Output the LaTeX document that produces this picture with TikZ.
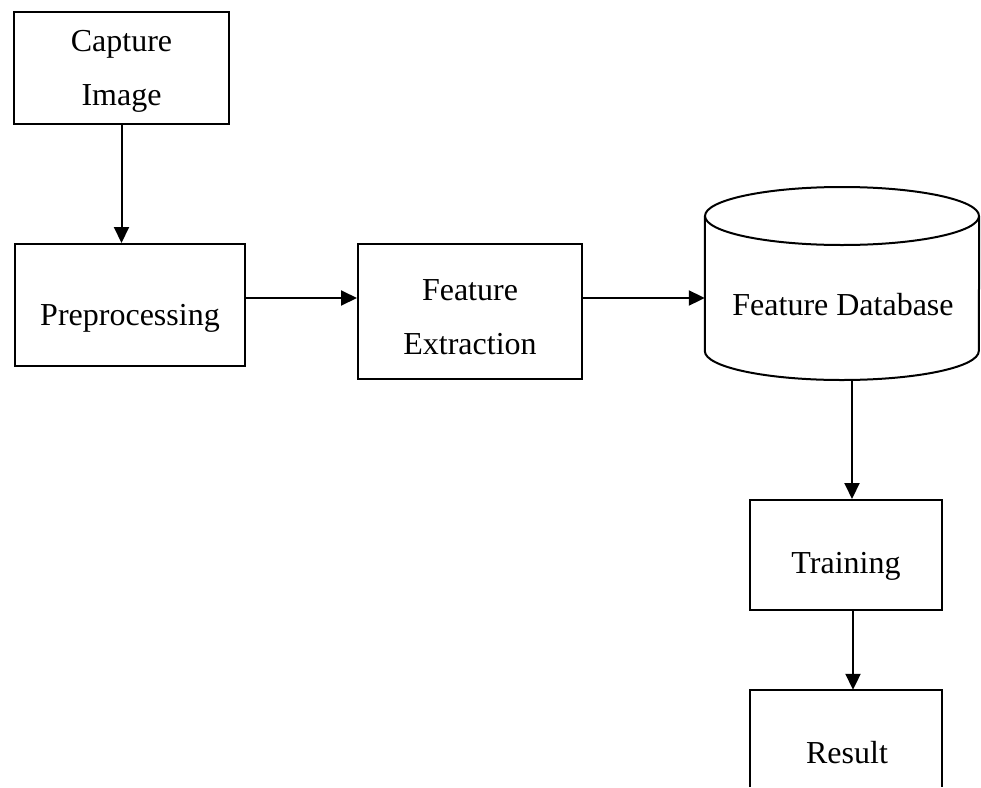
\documentclass[tikz,border=0pt]{standalone}
\usepackage{fontspec}
\setmainfont{Liberation Serif}
\usetikzlibrary{arrows.meta}
\begin{document}
\begin{tikzpicture}[x=1pt,y=-1pt,
  box/.style={draw, line width=2pt, inner sep=0pt},
  hollow/.style={inner sep=0pt},
  lbl/.style={inner sep=0pt, align=center},
  conn/.style={line width=2pt, -{Triangle[length=16pt,width=15pt]}},
  shapeline/.style={line width=2pt},
  font=\fontsize{32}{54}\selectfont]
\useasboundingbox (0,0) rectangle (981,787);
% boxes
\node[box, minimum width=215pt, minimum height=112pt] (cap) at (121.5,68) {};
\node[box, minimum width=230pt, minimum height=122pt] (pre) at (130,305) {};
\node[box, minimum width=224pt, minimum height=135pt] (fe) at (470,311.5) {};
\node[hollow, minimum width=274pt, minimum height=193pt] (db) at (842,283.5) {};
\node[box, minimum width=192pt, minimum height=110pt] (trn) at (846,555) {};
\node[hollow, minimum width=192pt, minimum height=97pt] (res) at (846,738.5) {};
% cylinder
\draw[shapeline] (842,216) ellipse [x radius=137pt, y radius=29pt];
\draw[shapeline] (db.west |- 0,216) -- (db.west |- 0,351)
  arc[start angle=180, end angle=360, x radius=137pt, y radius=29pt]
  -- (db.east |- 0,216);
% open result box
\draw[shapeline] (res.south west) -- (res.north west) -- (res.north east) -- (res.south east);
% labels
\node[lbl] (captxt) at (121.5,71.5) {Capture\\Image};
\node[lbl, anchor=base] (pretxt) at (130,325) {Preprocessing};
\node[lbl] (fetxt) at (470,317) {Feature\\Extraction};
\node[lbl, anchor=base] (dbtxt) at (843,315) {Feature Database};
\node[lbl, anchor=base] (trntxt) at (846,573) {Training};
\node[lbl, anchor=base] (restxt) at (847,763) {Result};
% connectors
\draw[conn] (cap.south) -- (cap.south |- pre.north);
\draw[conn] ([yshift=7pt]pre.east) -- ([yshift=7pt]pre.east -| fe.west);
\draw[conn] ([yshift=13.5pt]fe.east) -- ([yshift=13.5pt]fe.east -| db.west);
\coordinate (dbbot) at (852,380);
\draw[conn] (dbbot) -- (dbbot |- trn.north);
\draw[conn] ([xshift=7pt]trn.south) -- ([xshift=7pt]trn.south |- res.north);
\end{tikzpicture}
\end{document}
